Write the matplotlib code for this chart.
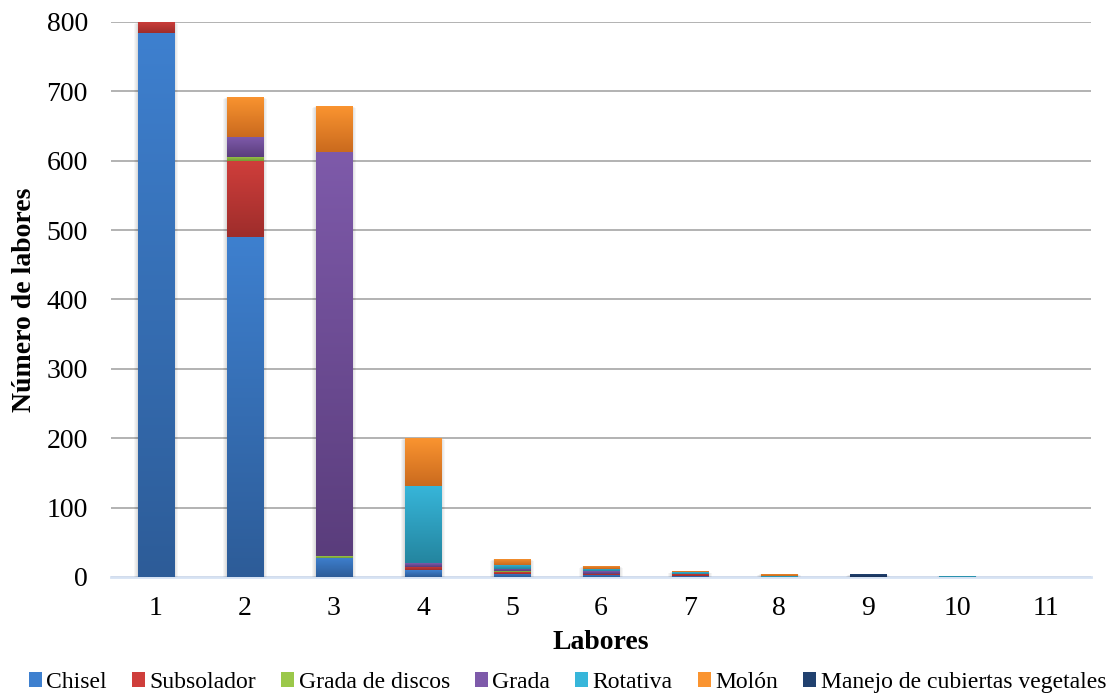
import numpy as np
import matplotlib
matplotlib.use('Agg')
import matplotlib.pyplot as plt
from matplotlib.colors import LinearSegmentedColormap
from matplotlib.patches import Patch

plt.rcParams['font.family'] = ['Liberation Serif', 'DejaVu Serif']

# data
labores = ['1', '2', '3', '4', '5', '6', '7', '8', '9', '10', '11']
chisel = [784, 490, 28, 10, 5, 3, 2, 0, 0, 0, 0]
subsolador = [16, 109, 0, 5, 2, 2, 3, 0, 0, 0, 0]
grada_discos = [0, 7, 2, 0, 1, 0, 0, 0, 0, 0, 0]
grada = [0, 28, 582, 5, 3, 3, 0, 0, 0, 0, 0]
rotativa = [0, 0, 1, 111, 6, 3, 2, 1, 0, 2, 0]
molon = [0, 58, 66, 69, 9, 5, 1, 4, 0, 0, 0]
manejo = [0, 0, 0, 0, 0, 0, 0, 0, 4, 0, 0]

series = ['Chisel', 'Subsolador', 'Grada de discos', 'Grada', 'Rotativa',
          'Molón', 'Manejo de cubiertas vegetales']
values = [chisel, subsolador, grada_discos, grada, rotativa, molon, manejo]
# (top colour, bottom colour) for the excel-like gradient
colors = [('#3E80CF', '#2D5C98'), ('#CF3E3B', '#9E2D2B'), ('#9BC84A', '#739A34'),
          ('#7E5AAA', '#5A3D7C'), ('#37B6DA', '#24859F'), ('#FA9430', '#CA6A1E'),
          ('#21416F', '#19325A')]

fig = plt.figure(figsize=(11.17, 6.93), dpi=100)
ax = fig.add_axes([0.0998, 0.1674, 0.8765, 0.8009])

x = np.arange(1, len(labores) + 1)
width = 0.41
bottom = np.zeros(len(labores))
totals = np.sum(values, axis=0)

# soft shadow behind the stacks
for k in range(4):
    ax.bar(x, totals, width=width + 0.02 * (k + 1), bottom=-0.6 * (k + 1),
           color='#000000', alpha=0.035, linewidth=0, zorder=2)

grad = np.linspace(1, 0, 256).reshape(-1, 1)
for name, vals, (ctop, cbot) in zip(series, values, colors):
    bars = ax.bar(x, vals, width=width, bottom=bottom, color=ctop,
                  linewidth=0, zorder=3, label=name)
    cmap = LinearSegmentedColormap.from_list(name, [cbot, ctop])
    for b, v in zip(bars, vals):
        if v <= 0:
            continue
        x0, y0 = b.get_x(), b.get_y()
        im = ax.imshow(grad, cmap=cmap, aspect='auto', zorder=4,
                       extent=[x0, x0 + b.get_width(), y0, y0 + b.get_height()],
                       vmin=0, vmax=1, interpolation='bilinear')
        im.set_clip_path(b)
    bottom = bottom + np.array(vals)

ax.set_xlim(0.5, 11.5)
ax.set_ylim(0, 800)
ax.set_yticks(np.arange(0, 801, 100))
ax.set_xticks(x)
ax.set_xticklabels(labores)
ax.yaxis.grid(True, color='#A6A6A6', linewidth=1.2, zorder=0)
ax.set_axisbelow(True)
for s in ['top', 'right', 'left']:
    ax.spines[s].set_visible(False)
ax.spines['bottom'].set_color('#D6E2F3')
ax.spines['bottom'].set_linewidth(2)
ax.spines['bottom'].set_zorder(1)
ax.tick_params(axis='both', length=0, labelsize=20, colors='black')
ax.tick_params(axis='x', pad=14)
ax.tick_params(axis='y', pad=17)

ax.set_ylabel('Número de labores', fontsize=20, fontweight='bold', labelpad=7)
ax.set_xlabel('Labores', fontsize=20, fontweight='bold', labelpad=6)

handles = [Patch(facecolor=c[0], edgecolor='none') for c in colors]
fig.legend(handles, series, loc='lower center', bbox_to_anchor=(0.508, -0.022),
           ncol=7, frameon=False, fontsize=17, handlelength=0.55,
           handleheight=0.55, handletextpad=0.2, columnspacing=1.05,
           borderpad=0.15)

fig.savefig('out.png', dpi=100)
